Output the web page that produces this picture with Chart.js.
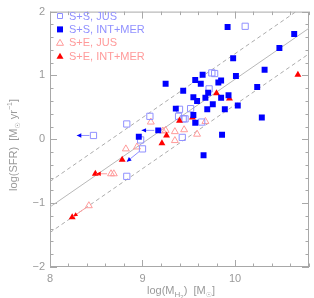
<!DOCTYPE html>
<html>
<head>
<meta charset="utf-8">
<script src="https://cdn.jsdelivr.net/npm/chart.js@4.4.0/dist/chart.umd.min.js"></script>
<style>
  html, body { margin: 0; padding: 0; background: #fff; }
  canvas { display: block; }
</style>
</head>
<body>
<canvas id="sfrChart" width="314" height="298"></canvas>
<script>
// S+S, JUS (open squares)
const ssJusX = [10.11, 9.75, 9.78, 9.72, 9.40, 9.52, 9.39, 9.44, 9.46, 9.08, 9.64, 9.43, 8.83, 8.47, 8.98, 9.00, 8.83];
const ssJusY = [1.77, 1.04, 1.03, 0.79, 0.47, 0.48, 0.36, 0.32, 0.32, 0.36, 0.27, 0.03, 0.24, 0.06, -0.01, -0.15, -0.58];

// S+S, INT+MER (filled squares)
const ssImX = [9.92, 10.64, 10.48, 9.98, 10.32, 10.01, 9.65, 9.57, 9.85, 9.82, 9.25, 9.63, 9.44, 9.71, 10.24, 9.93,
               9.55, 9.68, 9.85, 9.59, 9.76, 10.03, 9.36, 9.70, 9.89, 10.29, 9.55, 9.57, 9.17, 9.86, 9.66, 8.96];
const ssImY = [1.76, 1.65, 1.43, 1.27, 1.09, 0.99, 1.01, 0.93, 0.92, 0.89, 0.87, 0.87, 0.76, 0.73, 0.82, 0.69,
               0.66, 0.65, 0.65, 0.60, 0.55, 0.53, 0.48, 0.47, 0.47, 0.34, 0.38, 0.26, 0.14, 0.07, -0.25, 0.04];

// S+E, JUS (open triangles)
const seJusX = [9.09, 9.68, 9.22, 9.25, 9.35, 9.45, 9.59, 9.35, 8.82, 8.94, 8.66, 8.69, 8.42];
const seJusY = [0.27, 0.28, 0.13, 0.14, 0.12, 0.15, 0.08, -0.02, -0.15, -0.12, -0.54, -0.54, -1.04];

// S+E, INT+MER (filled triangles)
const seImX = [9.80, 9.94, 10.68, 9.40, 9.54, 9.26, 9.21, 8.78, 8.49, 8.24];
const seImY = [0.72, 0.64, 1.01, 0.29, 0.34, 0.06, -0.06, -0.32, -0.54, -1.22];

// arrows (start -> end)
const arrowX0 = [8.47, 9.17, 9.00, 8.66, 8.42];
const arrowY0 = [0.06, 0.14, -0.15, -0.54, -1.04];
const arrowX1 = [8.29, 8.99, 8.83, 8.50, 8.25];
const arrowY1 = [0.06, 0.14, -0.35, -0.54, -1.21];
const arrowSeries = ['ss', 'ss', 'ss', 'se', 'se'];

// fit line and +-0.4 dex band (end points)
const fitX = [8, 10.8];
const fitY = [-1.06, 1.74];
const upperX = [8, 10.66];
const upperY = [-0.66, 2.0];
const lowerX = [8, 10.8];
const lowerY = [-1.46, 1.34];

const legendLabels = ['S+S, JUS', 'S+S, INT+MER', 'S+E, JUS', 'S+E, INT+MER'];

const blue = '#0000ff';
const lightBlue = '#9090ff';
const red = '#ff0000';
const pink = '#ff9a9a';
const axisGray = '#a8a8a8';
const textGray = '#9a9a9a';
const FONT = '"Liberation Sans", Arial, "DejaVu Sans", sans-serif';

const toPoints = (xs, ys) => xs.map((x, i) => ({ x: x, y: ys[i] }));

// frame + inward ticks on all four sides
const framePlugin = {
    id: 'frame',
    beforeDatasetsDraw(chart) {
        const { ctx, chartArea: a, scales } = chart;
        ctx.save();
        ctx.strokeStyle = axisGray;
        ctx.lineWidth = 1;
        ctx.strokeRect(a.left + 0.5, a.top + 0.5, a.right - a.left - 1, a.bottom - a.top - 1);
        ctx.beginPath();
        for (let i = 0; i <= 14; i++) {
            const v = 8 + i * 0.2;
            const len = i % 5 === 0 ? 7 : 3.5;
            const px = Math.round(scales.x.getPixelForValue(v)) + 0.5;
            ctx.moveTo(px, a.bottom); ctx.lineTo(px, a.bottom - len);
            ctx.moveTo(px, a.top); ctx.lineTo(px, a.top + len);
        }
        for (let i = 0; i <= 20; i++) {
            const v = -2 + i * 0.2;
            const len = i % 5 === 0 ? 7 : 3.5;
            const py = Math.round(scales.y.getPixelForValue(v)) + 0.5;
            ctx.moveTo(a.left, py); ctx.lineTo(a.left + len, py);
            ctx.moveTo(a.right, py); ctx.lineTo(a.right - len, py);
        }
        ctx.stroke();
        ctx.restore();
    }
};

// text with sub/superscript runs
function drawRuns(ctx, runs, cx, cy) {
    let total = 0;
    runs.forEach(r => {
        ctx.font = (r.size || 11) + 'px ' + FONT;
        r.w = ctx.measureText(r.t).width;
        total += r.w;
    });
    let x = cx - total / 2;
    runs.forEach(r => {
        ctx.font = (r.size || 11) + 'px ' + FONT;
        ctx.fillText(r.t, x, cy + (r.dy || 0));
        x += r.w;
    });
}

const extrasPlugin = {
    id: 'extras',
    afterDatasetsDraw(chart) {
        const { ctx, scales } = chart;
        ctx.save();

        // arrows
        arrowX0.forEach((x0, i) => {
            const px0 = scales.x.getPixelForValue(x0);
            const py0 = scales.y.getPixelForValue(arrowY0[i]);
            const px1 = scales.x.getPixelForValue(arrowX1[i]);
            const py1 = scales.y.getPixelForValue(arrowY1[i]);
            const lineCol = arrowSeries[i] === 'ss' ? lightBlue : pink;
            const headCol = arrowSeries[i] === 'ss' ? blue : red;
            const ang = Math.atan2(py1 - py0, px1 - px0);
            ctx.strokeStyle = lineCol;
            ctx.lineWidth = 1;
            ctx.beginPath();
            ctx.moveTo(px0 + Math.cos(ang) * 4, py0 + Math.sin(ang) * 4);
            ctx.lineTo(px1, py1);
            ctx.stroke();
            ctx.fillStyle = headCol;
            ctx.beginPath();
            ctx.moveTo(px1, py1);
            ctx.lineTo(px1 - Math.cos(ang - 0.45) * 5, py1 - Math.sin(ang - 0.45) * 5);
            ctx.lineTo(px1 - Math.cos(ang + 0.45) * 5, py1 - Math.sin(ang + 0.45) * 5);
            ctx.closePath();
            ctx.fill();
        });

        // legend
        const styles = [
            { shape: 'rect', fill: false, col: lightBlue, text: lightBlue },
            { shape: 'rect', fill: true, col: blue, text: lightBlue },
            { shape: 'tri', fill: false, col: pink, text: pink },
            { shape: 'tri', fill: true, col: red, text: pink }
        ];
        ctx.textBaseline = 'middle';
        ctx.textAlign = 'left';
        legendLabels.forEach((lab, i) => {
            const s = styles[i];
            const mx = 60, my = 16 + i * 13.4;
            ctx.beginPath();
            if (s.shape === 'rect') {
                if (s.fill) { ctx.rect(mx - 3, my - 3, 6, 6); }
                else { ctx.rect(mx - 2.5, my - 2.5, 5, 5); }
            } else {
                ctx.moveTo(mx, my - 3.5);
                ctx.lineTo(mx + 3.5, my + 2.5);
                ctx.lineTo(mx - 3.5, my + 2.5);
                ctx.closePath();
            }
            if (s.fill) { ctx.fillStyle = s.col; ctx.fill(); }
            else { ctx.strokeStyle = s.col; ctx.lineWidth = 1; ctx.stroke(); }
            ctx.fillStyle = s.text;
            ctx.font = '11px ' + FONT;
            ctx.fillText(lab, 69, my + 0.5);
        });

        // axis titles
        ctx.fillStyle = textGray;
        ctx.textAlign = 'left';
        ctx.textBaseline = 'alphabetic';
        drawRuns(ctx, [
            { t: 'log(M' },
            { t: 'H', size: 8, dy: 3 },
            { t: '2', size: 6, dy: 5 },
            { t: ')  [M' },
            { t: '\u2609', size: 7, dy: 3 },
            { t: ']' }
        ], 181, 294);

        ctx.translate(17, 145);
        ctx.rotate(-Math.PI / 2);
        drawRuns(ctx, [
            { t: 'log(SFR)  [M' },
            { t: '\u2609', size: 7, dy: 3 },
            { t: ' yr' },
            { t: '\u22121', size: 7, dy: -5 },
            { t: ']' }
        ], 0, 0);
        ctx.restore();
    }
};

const ctx = document.getElementById('sfrChart').getContext('2d');

const myChart = new Chart(ctx, {
    type: 'scatter',
    data: {
        datasets: [
            {
                label: 'S+S, INT+MER',
                data: toPoints(ssImX, ssImY),
                pointStyle: 'rect',
                pointRadius: 4.2,
                backgroundColor: blue,
                borderColor: blue,
                borderWidth: 0,
                order: 0
            },
            {
                label: 'S+E, INT+MER',
                data: toPoints(seImX, seImY),
                pointStyle: 'triangle',
                pointRadius: 4,
                backgroundColor: red,
                borderColor: red,
                borderWidth: 0,
                order: 1
            },
            {
                label: 'S+S, JUS',
                data: toPoints(ssJusX, ssJusY),
                pointStyle: 'rect',
                pointRadius: 4.4,
                backgroundColor: 'rgba(0,0,0,0)',
                borderColor: lightBlue,
                borderWidth: 1,
                order: 2
            },
            {
                label: 'S+E, JUS',
                data: toPoints(seJusX, seJusY),
                pointStyle: 'triangle',
                pointRadius: 4,
                backgroundColor: 'rgba(0,0,0,0)',
                borderColor: pink,
                borderWidth: 1,
                order: 3
            },
            {
                label: 'fit',
                data: toPoints(fitX, fitY),
                showLine: true,
                pointRadius: 0,
                borderColor: '#b8b8b8',
                borderWidth: 1,
                order: 10
            },
            {
                label: 'fit + 0.4',
                data: toPoints(upperX, upperY),
                showLine: true,
                pointRadius: 0,
                borderColor: '#acacac',
                borderWidth: 1,
                borderDash: [4, 3],
                order: 11
            },
            {
                label: 'fit - 0.4',
                data: toPoints(lowerX, lowerY),
                showLine: true,
                pointRadius: 0,
                borderColor: '#acacac',
                borderWidth: 1,
                borderDash: [4, 3],
                order: 12
            }
        ]
    },
    options: {
        responsive: false,
        animation: false,
        layout: {
            autoPadding: false,
            padding: { top: 5, right: 1, bottom: 0, left: 0 }
        },
        plugins: {
            legend: { display: false },
            tooltip: { enabled: false }
        },
        scales: {
            x: {
                type: 'linear',
                min: 8,
                max: 10.8,
                grid: { display: false, drawTicks: false },
                border: { display: false },
                ticks: {
                    stepSize: 1,
                    padding: 5,
                    color: textGray,
                    font: { family: FONT, size: 11 },
                    callback: v => Math.abs(v - Math.round(v)) < 1e-6 ? String(Math.round(v)) : ''
                },
                afterFit: s => { s.height = 31; }
            },
            y: {
                type: 'linear',
                min: -2,
                max: 2,
                grid: { display: false, drawTicks: false },
                border: { display: false },
                ticks: {
                    stepSize: 1,
                    padding: 5,
                    color: textGray,
                    font: { family: FONT, size: 11 },
                    callback: v => v < 0 ? '\u2212' + Math.abs(v) : String(v)
                },
                afterFit: s => { s.width = 50; }
            }
        }
    },
    plugins: [framePlugin, extrasPlugin]
});
</script>
</body>
</html>
